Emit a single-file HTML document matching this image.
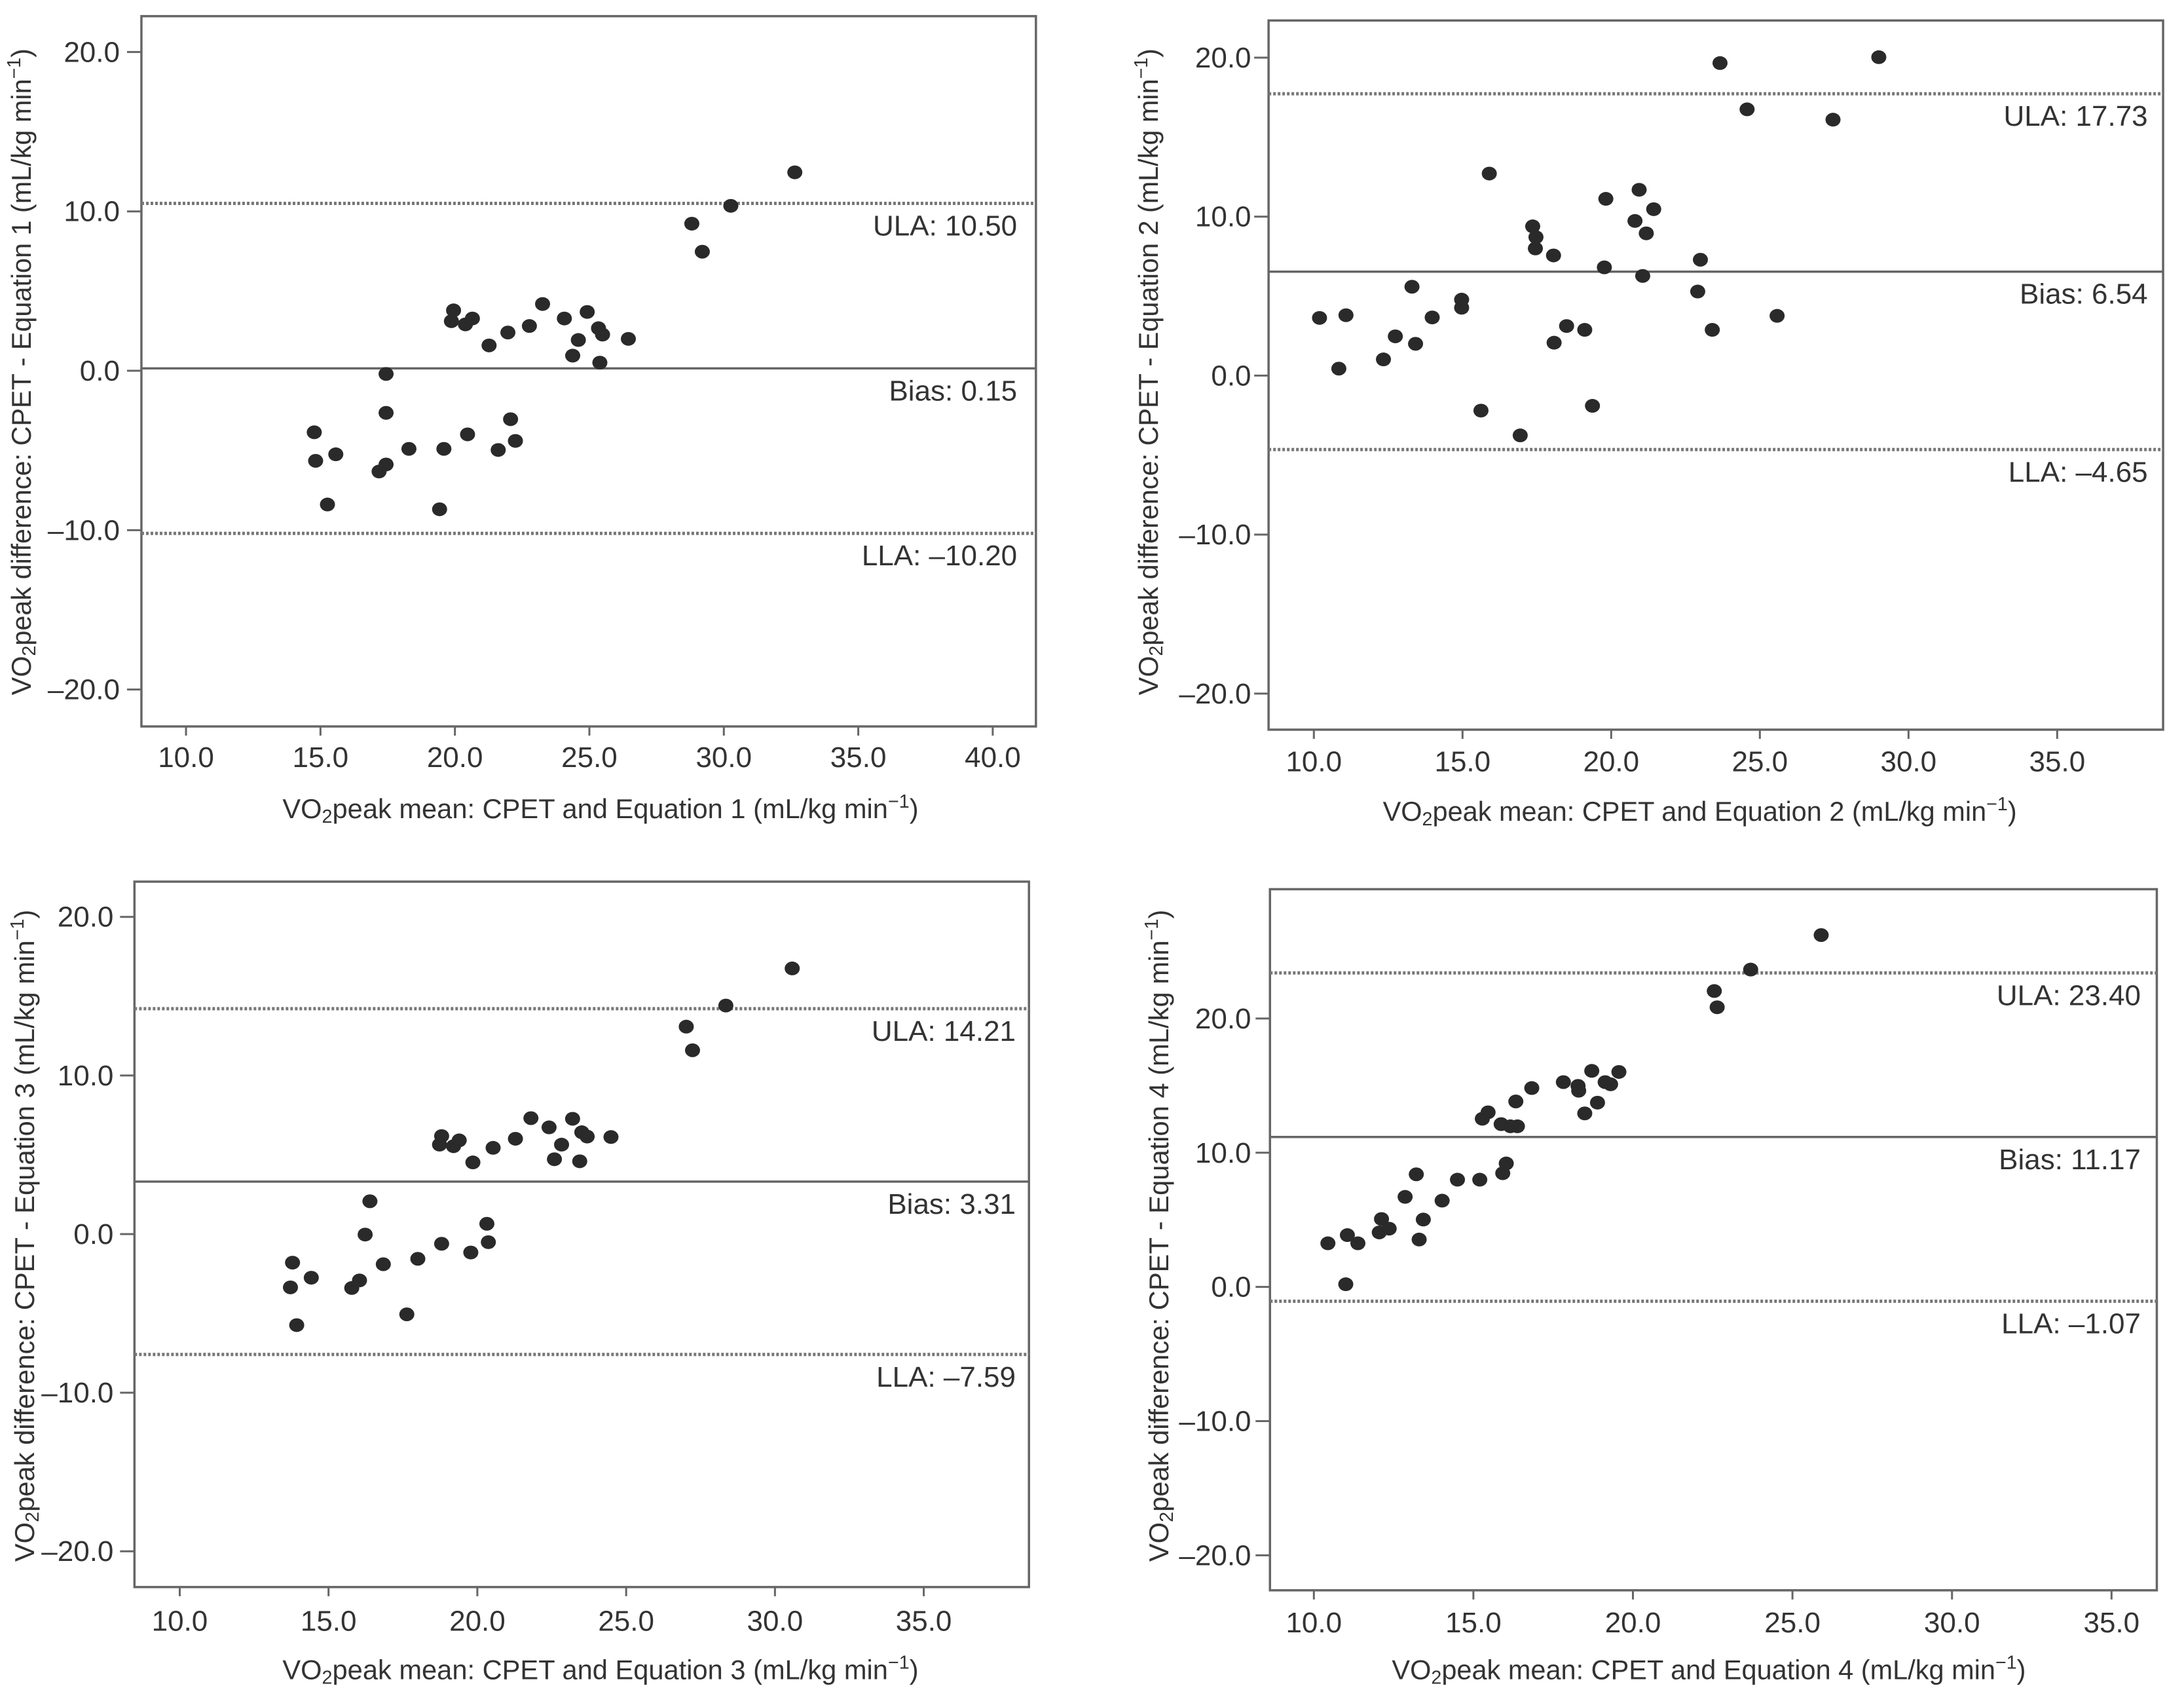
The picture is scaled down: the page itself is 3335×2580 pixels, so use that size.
<!DOCTYPE html>
<html><head><meta charset="utf-8"><style>
html,body{margin:0;padding:0;background:#fff;}
svg{display:block;}
text{font-family:"Liberation Sans",sans-serif;fill:#333;}
</style></head><body>
<svg id="fig" width="3335" height="2580" viewBox="0 0 3335 2580" xmlns="http://www.w3.org/2000/svg"></svg>
<script>
// Panel 1 data
const p1X=[32.64,30.26,28.81,29.2,19.95,19.87,20.39,20.65,23.26,24.07,24.92,22.77,21.97,21.27,24.59,25.34,25.49,26.45,24.38,25.39,17.44,17.44,14.77,14.82,15.57,17.18,17.44,18.29,19.59,20.47,22.07,22.25,21.61,15.26,19.43];
const p1Y=[12.45,10.35,9.23,7.47,3.79,3.11,2.91,3.28,4.19,3.28,3.69,2.81,2.4,1.59,1.93,2.67,2.27,2.0,0.95,0.51,-0.2,-2.64,-3.86,-5.65,-5.24,-6.32,-5.88,-4.9,-4.9,-3.99,-3.04,-4.4,-4.97,-8.39,-8.69];
const p1Lines=[10.50,0.15,-10.20];
// Panel 2 data
const p2X=[29.0,23.66,24.57,27.46,15.9,20.94,19.82,21.43,20.8,21.18,17.36,17.47,17.45,18.06,19.77,23.0,21.06,22.91,13.3,14.97,14.97,10.19,11.08,13.98,12.74,13.42,12.34,10.84,18.5,19.11,18.08,23.4,25.58,15.62,19.37,16.94];
const p2Y=[20.03,19.66,16.75,16.1,12.71,11.69,11.12,10.47,9.73,8.95,9.39,8.71,8.0,7.56,6.81,7.29,6.27,5.29,5.59,4.78,4.27,3.63,3.8,3.66,2.47,2.0,1.02,0.44,3.12,2.88,2.07,2.88,3.76,-2.2,-1.9,-3.76];
const p2Lines=[17.73,6.54,-4.65];
// Panel 3 data
const p3X=[30.58,28.35,27.02,27.23,21.8,23.2,22.41,23.51,23.69,24.49,21.28,18.8,19.39,18.73,19.2,20.53,22.83,22.59,23.44,19.85,16.39,20.32,20.37,16.23,18.8,19.78,18.0,16.84,13.79,14.42,13.72,16.04,15.78,17.63,13.93];
const p3Y=[16.75,14.41,13.08,11.59,7.31,7.27,6.73,6.42,6.15,6.12,6.01,6.18,5.91,5.64,5.54,5.44,5.64,4.72,4.59,4.52,2.07,0.65,-0.51,-0.03,-0.61,-1.16,-1.56,-1.9,-1.8,-2.75,-3.36,-2.92,-3.4,-5.06,-5.74];
const p3Lines=[14.21,3.31,-7.59];
// Panel 4 data
const p4X=[25.9,23.69,22.55,22.64,19.56,18.71,17.82,16.83,18.28,18.3,19.13,19.3,18.89,18.49,16.33,15.46,15.28,15.87,16.16,16.38,16.03,15.92,15.2,14.5,13.21,14.02,12.86,12.12,13.43,12.05,12.36,13.3,10.44,11.05,11.38,11.0];
const p4Y=[26.22,23.65,22.05,20.84,16.02,16.1,15.26,14.82,14.98,14.62,15.26,15.1,13.73,12.93,13.82,13.01,12.53,12.13,11.97,11.97,9.2,8.47,7.99,7.99,8.39,6.43,6.71,5.06,5.02,4.06,4.34,3.53,3.25,3.86,3.25,0.2];
const p4Lines=[23.40,11.17,-1.07];
const yTicks=[20,10,0,-10,-20];
const xTicks1=[10,15,20,25,30,35,40];
const xTicks2=[10,15,20,25,30,35];
const lineNames=["ULA","Bias","LLA"];

const NS="http://www.w3.org/2000/svg";
const svg=document.getElementById('fig');
const SX=1.0638, SY=0.8227;
function mk(tag,attrs,parent){const e=document.createElementNS(NS,tag);for(const k in attrs)e.setAttribute(k,attrs[k]);parent.appendChild(e);return e;}
function fmt(v,d){const s=Math.abs(v).toFixed(d);return (v<0?"\u2013":"")+s;}

const panels=[
 {n:1,ox:0,oy:0,box:[203,30,1487,1348],y0:688,yu:29.575,x10:267,xu:38.6,xs:p1X,ys:p1Y,lines:p1Lines,xt:xTicks1,lblR:1460,tickR:172,xLblY:1405,xtY:1500,xtC:862,xtL:913,ytX:30,ytC:690,ytL:1200},
 {n:2,ox:1668,oy:0,box:[253,38,1537,1354],y0:697,yu:29.5,x10:318,xu:42.68,xs:p2X,ys:p2Y,lines:p2Lines,xt:xTicks2,lblR:1515,tickR:228,xLblY:1413,xtY:1505,xtC:872,xtL:910,ytX:80,ytC:690,ytL:1200},
 {n:3,ox:0,oy:1290,box:[193,68,1477,1377],y0:722,yu:29.43,x10:258,xu:42.72,xs:p3X,ys:p3Y,lines:p3Lines,xt:xTicks2,lblR:1458,tickR:163,xLblY:1440,xtY:1530,xtC:862,xtL:913,ytX:35,ytC:725,ytL:1210},
 {n:4,ox:1668,oy:1290,box:[255,82,1528,1383],y0:820,yu:24.9,x10:318,xu:45.8,xs:p4X,ys:p4Y,lines:p4Lines,xt:xTicks2,lblR:1505,tickR:228,xLblY:1443,xtY:1530,xtC:885,xtL:910,ytX:95,ytC:725,ytL:1210}
];

panels.forEach(p=>{
 const g=mk('g',{},svg);
 
 
 const PX=x=>p.ox+x*SX, PY=y=>p.oy+y*SY;
 const X=v=>PX(p.x10+(v-10)*p.xu), Y=v=>PY(p.y0-v*p.yu);
 const l=PX(p.box[0]),t=PY(p.box[1]),r=PX(p.box[2]),b=PY(p.box[3]);
 const frame=mk('rect',{x:l,y:t,width:r-l,height:b-t,fill:'none',stroke:'#666','stroke-width':3.5},g);
 
 
 yTicks.forEach(v=>{
  const tk=mk('line',{x1:l-22,x2:l,y1:Y(v),y2:Y(v),stroke:'#666','stroke-width':3},g);
  
  
  const tx=mk('text',{x:PX(p.tickR),y:Y(v)+15,'text-anchor':'end','font-size':44},g);
  tx.textContent=fmt(v,1);
  
  
 });
 p.xt.forEach(v=>{
  const tk=mk('line',{x1:X(v),x2:X(v),y1:b,y2:b+14,stroke:'#666','stroke-width':3},g);
  
  
  const tx=mk('text',{x:X(v),y:PY(p.xLblY)+15,'text-anchor':'middle','font-size':44},g);
  tx.textContent=fmt(v,1);
  
  
 });
 p.lines.forEach((v,i)=>{
  const ln=mk('line',{x1:l,x2:r,y1:Y(v),y2:Y(v),stroke:i===1?'#666':'#777','stroke-width':i===1?3.5:5,'stroke-dasharray':i===1?'none':'4 3'},g);
  
  
  const tx=mk('text',{x:PX(p.lblR),y:Y(v)+49,'text-anchor':'end','font-size':44},g);
  tx.textContent=lineNames[i]+': '+fmt(v,2);
  
  
 });
 p.xs.forEach((xv,i)=>{
  const c=mk('ellipse',{cx:X(xv),cy:Y(p.ys[i]),rx:11.5,ry:10.5,fill:'#2a2a2a'},g);
  
  
 });
 const xt=mk('text',{x:PX(p.xtC),y:PY(p.xtY)+15,'text-anchor':'middle','font-size':42,textLength:p.xtL*SX,lengthAdjust:'spacingAndGlyphs'},g);
 xt.innerHTML=`VO<tspan baseline-shift="-25%" font-size="29">2</tspan>peak mean: CPET and Equation ${p.n} (mL/kg min<tspan baseline-shift="super" font-size="29">\u22121</tspan>)`;
 
 
 const yt=mk('text',{x:0,y:0,'text-anchor':'middle','font-size':42,textLength:p.ytL*SY,lengthAdjust:'spacingAndGlyphs',transform:`translate(${PX(p.ytX)+15},${PY(p.ytC)}) rotate(-90)`},g);
 yt.innerHTML=`VO<tspan baseline-shift="-25%" font-size="29">2</tspan>peak difference: CPET - Equation ${p.n} (mL/kg min<tspan baseline-shift="super" font-size="29">\u22121</tspan>)`;
 
 
});
</script>
</body></html>
